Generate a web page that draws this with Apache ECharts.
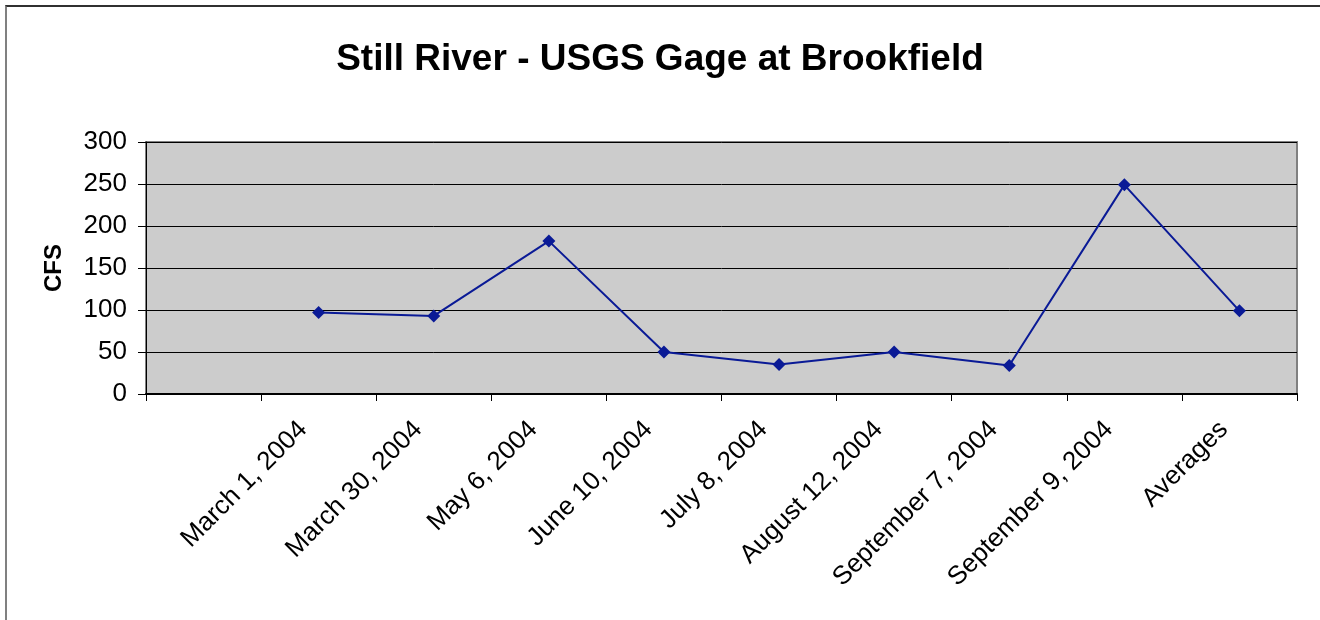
<!DOCTYPE html>
<html>
<head>
<meta charset="utf-8">
<script src="https://cdn.jsdelivr.net/npm/echarts@6/dist/echarts.min.js"></script>
<style>
  html, body { margin: 0; padding: 0; background: #ffffff; overflow: hidden; }
  #frame { position: absolute; left: 5px; top: 5px; width: 1400px; height: 700px;
           border-left: 2px solid #808080; border-top: 2px solid #303030; box-sizing: border-box; }
  #chart { position: absolute; left: 0; top: 0; width: 1320px; height: 620px; }
</style>
</head>
<body>
<div id="frame"></div>
<div id="chart"></div>
<script>
const titleText = 'Still River - USGS Gage at Brookfield';
const yAxisName = 'CFS';
const categories = ['', 'March 1, 2004', 'March 30, 2004', 'May 6, 2004', 'June 10, 2004',
  'July 8, 2004', 'August 12, 2004', 'September 7, 2004', 'September 9, 2004', 'Averages'];
const cfsValues = [null, 97, 93, 182, 50, 35, 50, 34, 249, 99];
const yTicks = { min: 0, max: 300, interval: 50 };

const chart = echarts.init(document.getElementById('chart'), null, { renderer: 'canvas' });
const font = '"Liberation Sans", Arial, sans-serif';
chart.setOption({
  backgroundColor: 'transparent',
  animation: false,
  title: {
    text: titleText,
    left: 'center',
    top: 36,
    textStyle: { fontFamily: font, fontSize: 37, fontWeight: 'bold', color: '#000' }
  },
  grid: { left: 146, right: 23, top: 142, bottom: 226, show: true,
          backgroundColor: '#cccccc', borderColor: '#808080', borderWidth: 2 },
  xAxis: {
    type: 'category',
    data: categories,
    boundaryGap: true,
    axisLine: { lineStyle: { color: '#000', width: 2 } },
    axisTick: { show: true, alignWithLabel: false, length: 7, lineStyle: { color: '#000', width: 1 } },
    axisLabel: { rotate: 45, interval: 0, margin: 16, color: '#000',
                 fontFamily: font, fontSize: 26, padding: [0, 22, 0, 0] },
    splitLine: { show: false }
  },
  yAxis: {
    type: 'value',
    min: yTicks.min, max: yTicks.max, interval: yTicks.interval,
    name: yAxisName,
    nameLocation: 'middle',
    nameGap: 80,
    nameRotate: 90,
    nameTextStyle: { fontFamily: font, fontSize: 24, fontWeight: 'bold', color: '#000' },
    axisLine: { show: true, lineStyle: { color: '#000', width: 1 } },
    axisTick: { show: true, length: 8, lineStyle: { color: '#000' } },
    axisLabel: { color: '#000', fontFamily: font, fontSize: 26, margin: 19 },
    splitLine: { show: true, lineStyle: { color: '#000', width: 1 } }
  },
  series: [{
    type: 'line',
    data: cfsValues,
    symbol: 'diamond',
    symbolSize: 13,
    lineStyle: { color: '#0a1a96', width: 2 },
    itemStyle: { color: '#0a1a96' },
    connectNulls: false
  }]
});
</script>
</body>
</html>
